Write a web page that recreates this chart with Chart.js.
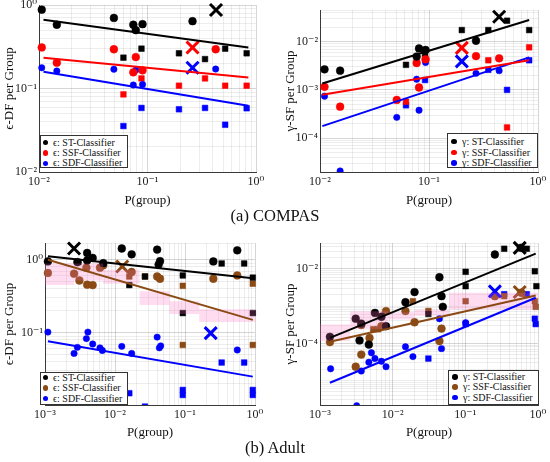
<!DOCTYPE html>
<html>
<head>
<meta charset="utf-8">
<script src="https://cdn.jsdelivr.net/npm/chart.js@4.4.1/dist/chart.umd.min.js"></script>
<style>
  html, body { margin: 0; padding: 0; background: #fff; }
  #wrap { position: relative; width: 550px; height: 462px; overflow: hidden; background: #fff; font-family: "Liberation Serif", serif; color: #111; }
  .plot { position: absolute; }
  .legend { position: absolute; background: #fff; border: 1px solid #333; box-sizing: border-box; }
  .row { position: absolute; font-size: 10px; line-height: 10px; white-space: nowrap; }
  .dot { position: absolute; width: 5.5px; height: 5.5px; border-radius: 50%; }
  .caption { position: absolute; left: 0; width: 550px; text-align: center; font-size: 16.5px; line-height: 18px; }
</style>
</head>
<body>
<div id="wrap">
  <div class="plot" style="left:0;top:-10px"><canvas id="pa" width="268" height="220"></canvas></div>
  <div class="plot" style="left:275px;top:-10px"><canvas id="pb" width="275" height="220"></canvas></div>
  <div class="plot" style="left:0;top:220px"><canvas id="pc" width="267" height="225"></canvas></div>
  <div class="plot" style="left:275px;top:220px"><canvas id="pd" width="275" height="225"></canvas></div>
  <div class="caption" style="top:207px">(a) COMPAS</div>
  <div class="caption" style="top:439px">(b) Adult</div>
</div>
<script>
// ---- (a) COMPAS, epsilon-DF per group ----
const aCircleX = [0.0106, 0.0146, 0.049, 0.074, 0.078, 0.090, 0.26, 0.425];
const aStCircle = [0.88, 0.58, 0.70, 0.58, 0.50, 0.59, 0.64, null];
const aSsfCircle = [0.31, 0.204, 0.295, 0.156, 0.238, 0.165, null, 0.295];
const aSdfCircle = [0.177, 0.162, 0.17, 0.11, 0.166, 0.112, null, 0.171];
const aSquareX = [0.060, 0.088, 0.195, 0.339, 0.52, 0.82];
const aStSquare = [0.234, 0.30, 0.264, 0.225, 0.30, 0.264];
const aSsfSquare = [0.085, 0.132, 0.108, 0.132, 0.108, 0.108];
const aSdfSquare = [0.0355, 0.0585, 0.0564, 0.0585, 0.0368, 0.058];
const aCrossX = [0.428, 0.26, 0.26];
const aCrossY = [0.87, 0.31, 0.177];
const aFitX = [0.011, 0.85];
const aStFit = [0.665, 0.31];
const aSsfFit = [0.234, 0.135];
const aSdfFit = [0.159, 0.062];

// ---- (a) COMPAS, gamma-SF per group ----
const bCircleX = [0.011, 0.0153, 0.0506, 0.077, 0.081, 0.093, 0.27, 0.44];
const bStCircle = [2.66e-3, 2.5e-3, null, 4.9e-3, 7.2e-3, 6.7e-3, 0.0104, null];
const bSsfCircle = [1.16e-3, 4.5e-4, 6.2e-4, 3.6e-3, 1.12e-3, 4.3e-3, 5.0e-3, 4.5e-3];
const bSdfCircle = [7.4e-4, 2.1e-5, 2.7e-4, 1.66e-3, 3.8e-4, 3.7e-3, 2.2e-3, 2.5e-3];
const bSquareX = [0.0615, 0.092, 0.2, 0.35, 0.52, 0.83];
const bStSquare = [3.3e-3, 5.7e-3, 0.0173, 0.0173, 0.027, 0.0173];
const bSsfSquare = [5.7e-4, 4.6e-3, null, 4.1e-3, 1.67e-4, 7.6e-3];
const bSdfSquare = [4.8e-4, 1.6e-3, null, 2.6e-3, 1.0e-3, 4.1e-3];
const bCrossX = [0.44, 0.2, 0.2];
const bCrossY = [0.0327, 7.4e-3, 3.9e-3];
const bFitX = [0.0105, 0.83];
const bStFit = [1.36e-3, 0.028];
const bSsfFit = [7.9e-4, 4.1e-3];
const bSdfFit = [1.78e-4, 4.7e-3];

// ---- (b) Adult, epsilon-DF per group ----
const cStCircleX = [0.0011, 0.0029, 0.004, 0.004, 0.0048, 0.0068, 0.0125, 0.0173, 0.040, 0.042, 0.044, 0.254, 0.558];
const cStCircleY = [0.95, 0.93, 1.24, 0.98, 1.06, 0.90, 1.43, 1.19, 1.38, 0.86, 0.96, 0.95, 1.35];
const cStSquareX = [0.003, 0.016, 0.0268, 0.093, 0.093, 0.334, 0.70, 0.93, 0.93];
const cStSquareY = [0.93, 0.45, 0.59, 0.61, 0.186, 0.89, 0.89, 0.57, 0.186];
const cSsfCircleX = [0.0011, 0.0026, 0.0031, 0.0039, 0.004, 0.0048, 0.0061, 0.0068, 0.0173, 0.040, 0.044, 0.254, 0.558];
const cSsfCircleY = [0.66, 0.645, 0.52, 0.78, 0.456, 0.45, 0.78, 0.84, 0.68, 0.59, 0.55, 0.55, 0.61];
const cSsfSquareX = [0.016, 0.0268, 0.093, 0.093, 0.93, 0.93];
const cSsfSquareY = [0.59, 0.59, 0.44, 0.068, 0.47, 0.068];
const cSdfCircleX = [0.0011, 0.0026, 0.0029, 0.0039, 0.0041, 0.0048, 0.0061, 0.0066, 0.0125, 0.0173, 0.040, 0.043, 0.045, 0.558];
const cSdfCircleY = [0.102, 0.052, 0.063, 0.083, 0.102, 0.070, 0.062, 0.057, 0.065, 0.052, 0.087, 0.062, 0.066, 0.058];
const cSdfSquareX = [0.016, 0.0268, 0.093, 0.093, 0.334, 0.70, 0.93, 0.93];
const cSdfSquareY = [0.0148, 0.0097, 0.0164, 0.014, 0.039, 0.039, 0.0164, 0.014];
const cCrossX = [0.0026, 0.0127, 0.233];
const cCrossY = [1.43, 0.81, 0.0986];
const cFitX = [0.0011, 0.93];
const cStFit = [1.12, 0.56];
const cSsfFit = [1.0, 0.15];
const cSdfFit = [0.0766, 0.025];
const cBandX = [0.001, 0.0026, 0.0068, 0.0225, 0.06, 0.16, 0.4, 1.0];
const cBandLo = [0.52, 0.45, 0.52, 0.47, 0.24, 0.18, 0.14, 0.14];
const cBandHi = [0.79, 0.89, 0.89, 0.73, 0.37, 0.27, 0.21, 0.21];

// ---- (b) Adult, gamma-SF per group ----
const dStCircleX = [0.00137, 0.0031, 0.0035, 0.0037, 0.0047, 0.0057, 0.007, 0.0081, 0.015, 0.020, 0.044, 0.047, 0.049, 0.255, 0.58];
const dStCircleY = [1.5e-4, 4.6e-4, 1.2e-4, 3.4e-4, 9.3e-5, 6.6e-4, 5.2e-4, 2.9e-4, 1.28e-3, 2.4e-3, 6.0e-3, 1.86e-3, 9.6e-4, 0.0245, 0.037];
const dStSquareX = [0.031, 0.101, 0.101, 0.343, 0.70, 0.905, 0.95];
const dStSquareY = [6.2e-4, 8.4e-3, 3.45e-3, 0.035, 0.035, 8.7e-3, 3.45e-3];
const dSsfCircleX = [0.00137, 0.0031, 0.0037, 0.0037, 0.0048, 0.007, 0.0081, 0.015, 0.020, 0.044, 0.047, 0.255, 0.59];
const dSsfCircleY = [1.08e-4, 2.35e-5, 3.1e-4, 5.0e-5, 1.4e-4, 2.9e-4, 7.4e-4, 7.4e-4, 3.7e-4, 1.15e-4, 2.5e-4, 1.86e-3, 2.3e-3];
const dSsfSquareX = [0.0054, 0.0063, 0.019, 0.031, 0.101, 0.343, 0.905, 0.93];
const dSsfSquareY = [2.4e-4, 2.4e-4, 1.36e-3, 7.4e-4, 1.36e-3, 1.86e-3, 1.36e-3, 9.6e-4];
const dSdfCircleX = [0.0014, 0.0032, 0.0037, 0.0047, 0.0051, 0.0057, 0.007, 0.0081, 0.015, 0.019, 0.044, 0.047, 0.047, 0.101];
const dSdfCircleY = [2.07e-5, 2.1e-6, 1.8e-5, 3.1e-5, 5.6e-5, 3.9e-5, 3.3e-5, 2.35e-5, 8.1e-5, 4.4e-5, 4.6e-4, 2.5e-4, 7.2e-5, 3.6e-4];
const dSdfSquareX = [0.031, 0.101, 0.343, 0.70, 0.905, 0.93];
const dSdfSquareY = [3.9e-5, 3.3e-4, 2.1e-3, 2.1e-3, 4.6e-4, 3.3e-4];
const dCrossX = [0.56, 0.56, 0.255];
const dCrossY = [0.037, 2.4e-3, 2.5e-3];
const dFitX = [0.00137, 0.93];
const dStFit = [1.4e-4, 0.026];
const dSsfFit = [1.1e-4, 1.94e-3];
const dSdfFit = [8.7e-6, 1.68e-3];
const dBandX = [0.001, 0.0026, 0.0086, 0.02, 0.06, 0.1, 1.0];
const dBandLo = [9.3e-5, 1.15e-4, 2.4e-4, 4.4e-4, 5.5e-4, 8.2e-4, 8.2e-4];
const dBandHi = [1.75e-4, 3.2e-4, 7.3e-4, 6.9e-4, 8.0e-4, 2.3e-3, 2.3e-3];

const classifiers = ["ST-Classifier", "SSF-Classifier", "SDF-Classifier"];

const BLACK = "#000000", RED = "#ff0000", BLUE = "#0000ff", BROWN = "#8b4a14";
const PINK = "rgba(255, 110, 190, 0.24)";

Chart.defaults.font.family = "'Liberation Serif', 'DejaVu Serif', serif";

const sup = { "-": "\u207B", "0": "\u2070", "1": "\u00B9", "2": "\u00B2", "3": "\u00B3", "4": "\u2074", "5": "\u2075", "6": "\u2076" };

function decadeExp(v) {
  const e = Math.log10(v);
  return Math.abs(e - Math.round(e)) < 1e-6 ? Math.round(e) : null;
}
function isMajor(v, every) {
  const e = decadeExp(v);
  return e !== null && e % every === 0;
}
function powLabel(v, every) {
  if (!isMajor(v, every)) return "";
  return "10" + String(decadeExp(v)).split("").map(c => sup[c]).join("");
}
// 1..9 x 10^n ticks, like matlab's minor log grid
function logTicks(min, max) {
  const out = [{ value: min }];
  for (let e = Math.floor(Math.log10(min)); e <= Math.ceil(Math.log10(max)); e++) {
    for (let m = 1; m < 10; m++) {
      const v = m * Math.pow(10, e);
      if (v > min * 1.0001 && v < max * 0.9999) out.push({ value: v });
    }
  }
  out.push({ value: max });
  return out;
}
function pts(xs, ys) {
  const out = [];
  xs.forEach((x, i) => { if (ys[i] != null) out.push({ x: x, y: ys[i] }); });
  return out;
}

function axis(p, isX) {
  const every = isX ? 1 : (p.yEvery || 1);
  return {
    type: "logarithmic",
    position: isX ? "bottom" : "left",
    min: isX ? p.xMin : p.yMin,
    max: isX ? p.xMax : p.yMax,
    afterBuildTicks: s => { s.ticks = logTicks(s.min, s.max); },
    afterFit: s => { if (isX) s.height = p.xH; else s.width = p.yW; },
    grid: {
      drawTicks: false,
      lineWidth: 1,
      color: c => (c.tick && isMajor(c.tick.value, every)) ? "rgba(0,0,0,0.16)" : "rgba(0,0,0,0.07)"
    },
    border: { color: "#3a3a3a", width: 1 },
    ticks: {
      autoSkip: false, maxRotation: 0, minRotation: 0,
      padding: isX ? 3 : 2,
      color: "#1a1a1a",
      font: { size: 12 },
      callback: v => powLabel(v, every)
    },
    title: {
      display: true,
      text: isX ? "P(group)" : p.yTitle,
      color: "#111",
      font: { size: 13 },
      padding: isX ? { top: 0, bottom: p.xTitlePad } : { top: p.yTitlePad, bottom: 0 }
    }
  };
}

function makePlot(p) {
  const ds = [];
  const clip = { left: 6, top: 6, right: 6, bottom: 0 };
  // regression lines on top
  p.fits.forEach((f, i) => ds.push({
    type: "line", data: pts(p.fitX, f), borderColor: p.colors[i], borderWidth: 2,
    pointRadius: 0, fill: false, tension: 0
  }));
  if (p.band) {
    ds.push({ type: "line", data: pts(p.band.x, p.band.lo), borderColor: "rgba(0,0,0,0)", pointRadius: 0, stepped: "after", fill: false });
    ds.push({ type: "line", data: pts(p.band.x, p.band.hi), borderColor: "rgba(0,0,0,0)", pointRadius: 0, stepped: "after", fill: "-1", backgroundColor: PINK });
  }
  ds.push({
    data: pts(p.crossX, p.crossY), pointStyle: "crossRot", pointRadius: 8.5, borderWidth: 3,
    borderColor: p.colors, backgroundColor: p.colors, clip: clip
  });
  p.circles.forEach((c, i) => ds.push({
    data: pts(c.x, c.y), pointStyle: "circle", pointRadius: i === 2 ? 3.2 : 3.9, borderWidth: 0.5,
    borderColor: p.colors[i], backgroundColor: p.colors[i], clip: clip
  }));
  p.squares.forEach((c, i) => ds.push({
    data: pts(c.x, c.y), pointStyle: "rect", pointRadius: 4, borderWidth: 0.5,
    borderColor: p.colors[i], backgroundColor: p.colors[i], clip: clip
  }));

  new Chart(document.getElementById(p.id), {
    type: "scatter",
    data: { datasets: ds },
    options: {
      responsive: false,
      animation: false,
      layout: { padding: { top: p.padTop, right: 12, left: 0, bottom: 0 } },
      plugins: { legend: { display: false }, tooltip: { enabled: false } },
      scales: { x: axis(p, true), y: axis(p, false) }
    }
  });
}

function addLegend(lg, symbol, colors) {
  const box = document.createElement("div");
  box.className = "legend";
  Object.assign(box.style, { left: lg.left + "px", top: lg.top + "px", width: lg.width + "px", height: lg.height + "px" });
  lg.rows.forEach((cy, i) => {
    const dot = document.createElement("div");
    dot.className = "dot";
    Object.assign(dot.style, { left: (lg.dotX - lg.left - 3.75) + "px", top: (cy - lg.top - 3.75) + "px", background: colors[i] });
    const row = document.createElement("div");
    row.className = "row";
    Object.assign(row.style, { left: (lg.textX - lg.left - 1) + "px", top: (cy - lg.top - 6) + "px" });
    row.textContent = symbol + ": " + classifiers[i];
    box.appendChild(dot);
    box.appendChild(row);
  });
  document.getElementById("wrap").appendChild(box);
}

const compasColors = [BLACK, RED, BLUE];
const adultColors = [BLACK, BROWN, BLUE];

makePlot({
  id: "pa", padTop: 15, yW: 39, xH: 38, xTitlePad: 2, yTitlePad: 2,
  xMin: 0.01, xMax: 1, yMin: 0.01, yMax: 1, yTitle: "\u03F5-DF per Group",
  colors: compasColors,
  fitX: aFitX, fits: [aStFit, aSsfFit, aSdfFit],
  crossX: aCrossX, crossY: aCrossY,
  circles: [{ x: aCircleX, y: aStCircle }, { x: aCircleX, y: aSsfCircle }, { x: aCircleX, y: aSdfCircle }],
  squares: [{ x: aSquareX, y: aStSquare }, { x: aSquareX, y: aSsfSquare }, { x: aSquareX, y: aSdfSquare }]
});
makePlot({
  id: "pb", padTop: 20, yW: 45, xH: 38, xTitlePad: 2, yTitlePad: 7.7,
  xMin: 0.01, xMax: 1, yMin: 2e-5, yMax: 0.045, yTitle: "\u03B3-SF per Group",
  colors: compasColors,
  fitX: bFitX, fits: [bStFit, bSsfFit, bSdfFit],
  crossX: bCrossX, crossY: bCrossY,
  circles: [{ x: bCircleX, y: bStCircle }, { x: bCircleX, y: bSsfCircle }, { x: bCircleX, y: bSdfCircle }],
  squares: [{ x: bSquareX, y: bStSquare }, { x: bSquareX, y: bSsfSquare }, { x: bSquareX, y: bSdfSquare }]
});
makePlot({
  id: "pc", padTop: 23, yW: 45, xH: 40, xTitlePad: 5, yTitlePad: 2,
  xMin: 0.001, xMax: 1, yMin: 0.0102, yMax: 1.7, yTitle: "\u03F5-DF per Group",
  colors: adultColors,
  fitX: cFitX, fits: [cStFit, cSsfFit, cSdfFit],
  band: { x: cBandX, lo: cBandLo, hi: cBandHi },
  crossX: cCrossX, crossY: cCrossY,
  circles: [{ x: cStCircleX, y: cStCircleY }, { x: cSsfCircleX, y: cSsfCircleY }, { x: cSdfCircleX, y: cSdfCircleY }],
  squares: [{ x: cStSquareX, y: cStSquareY }, { x: cSsfSquareX, y: cSsfSquareY }, { x: cSdfSquareX, y: cSdfSquareY }]
});
makePlot({
  id: "pd", padTop: 23, yW: 45, xH: 40, xTitlePad: 5, yTitlePad: 7.7, yEvery: 2,
  xMin: 0.001, xMax: 1, yMin: 2.2e-6, yMax: 0.05, yTitle: "\u03B3-SF per Group",
  colors: adultColors,
  fitX: dFitX, fits: [dStFit, dSsfFit, dSdfFit],
  band: { x: dBandX, lo: dBandLo, hi: dBandHi },
  crossX: dCrossX, crossY: dCrossY,
  circles: [{ x: dStCircleX, y: dStCircleY }, { x: dSsfCircleX, y: dSsfCircleY }, { x: dSdfCircleX, y: dSdfCircleY }],
  squares: [{ x: dStSquareX, y: dStSquareY }, { x: dSsfSquareX, y: dSsfSquareY }, { x: dSdfSquareX, y: dSdfSquareY }]
});

addLegend({ left: 40, top: 135, width: 88, height: 33, rows: [142.7, 153, 163.3], dotX: 45.5, textX: 53 }, "\u03F5", compasColors);
addLegend({ left: 447, top: 133, width: 91, height: 35, rows: [141.5, 152.5, 163], dotX: 454, textX: 462 }, "\u03B3", compasColors);
addLegend({ left: 40, top: 372, width: 88, height: 33, rows: [377.5, 388, 398.5], dotX: 45.5, textX: 53 }, "\u03F5", adultColors);
addLegend({ left: 448, top: 370, width: 91, height: 35, rows: [377, 387, 397.5], dotX: 455, textX: 463 }, "\u03B3", adultColors);
</script>
</body>
</html>
